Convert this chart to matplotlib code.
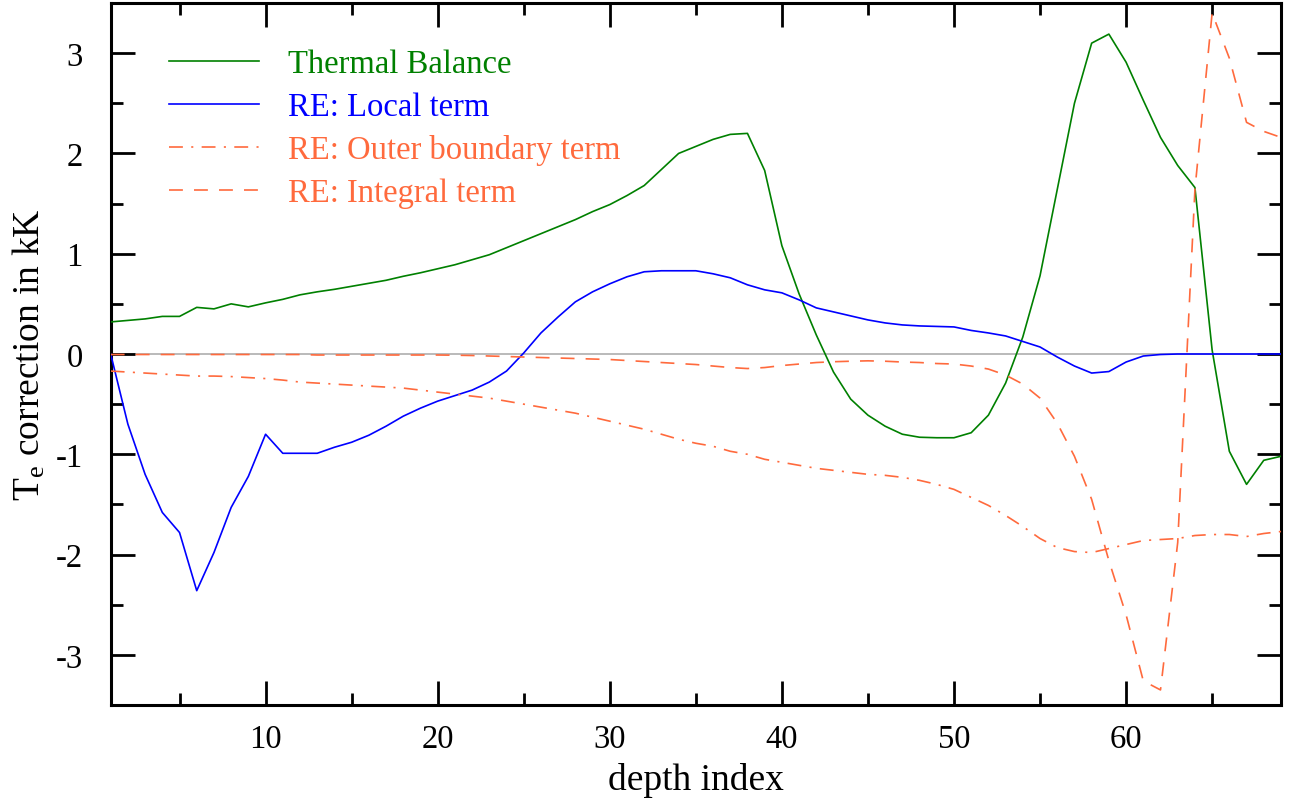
import numpy as np
import matplotlib
matplotlib.use("Agg")
import matplotlib.pyplot as plt
from matplotlib.ticker import MultipleLocator

# -----------------------------------------------------------------------------
# Datos (indice de profundidad 1..69, correcciones en kK)
# -----------------------------------------------------------------------------
depth = np.arange(1, 70)

thermal_balance = [
    0.32, 0.335, 0.35, 0.375, 0.375, 0.465, 0.45, 0.50, 0.47, 0.51,
    0.545, 0.59, 0.62, 0.645, 0.675, 0.705, 0.735, 0.775, 0.81, 0.85,
    0.89, 0.94, 0.99, 1.06, 1.13, 1.20, 1.27, 1.34, 1.42, 1.49,
    1.58, 1.68, 1.84, 2.00, 2.07, 2.14, 2.19, 2.20, 1.83, 1.08,
    0.60, 0.19, -0.18, -0.45, -0.61, -0.72, -0.80, -0.83, -0.835, -0.835,
    -0.785, -0.61, -0.29, 0.17, 0.78, 1.64, 2.50, 3.10, 3.19, 2.91,
    2.53, 2.16, 1.88, 1.66, 0.04, -0.97, -1.30, -1.06, -1.02,
]

local_term = [
    0.0, -0.70, -1.20, -1.58, -1.78, -2.36, -1.98, -1.53, -1.22, -0.80,
    -0.99, -0.99, -0.99, -0.93, -0.88, -0.81, -0.72, -0.62, -0.54, -0.47,
    -0.415, -0.36, -0.28, -0.17, 0.01, 0.21, 0.37, 0.52, 0.62, 0.70,
    0.77, 0.82, 0.83, 0.83, 0.83, 0.80, 0.76, 0.69, 0.64, 0.61,
    0.54, 0.46, 0.42, 0.38, 0.34, 0.31, 0.29, 0.28, 0.275, 0.27,
    0.235, 0.21, 0.18, 0.125, 0.07, -0.03, -0.12, -0.19, -0.175, -0.08,
    -0.02, -0.005, 0.0, 0.0, 0.0, 0.0, 0.0, 0.0, 0.0,
]

outer_boundary = [
    -0.17, -0.18, -0.19, -0.20, -0.21, -0.22, -0.22, -0.225, -0.235, -0.245,
    -0.26, -0.28, -0.29, -0.30, -0.31, -0.32, -0.33, -0.34, -0.36, -0.38,
    -0.40, -0.42, -0.44, -0.47, -0.50, -0.53, -0.56, -0.59, -0.63, -0.67,
    -0.71, -0.75, -0.80, -0.85, -0.89, -0.92, -0.97, -1.00, -1.05, -1.08,
    -1.11, -1.14, -1.16, -1.18, -1.20, -1.21, -1.23, -1.26, -1.30, -1.35,
    -1.43, -1.51, -1.61, -1.72, -1.84, -1.93, -1.97, -1.98, -1.94, -1.90,
    -1.86, -1.85, -1.84, -1.81, -1.80, -1.80, -1.82, -1.79, -1.77,
]

integral_term = [
    -0.005, -0.005, -0.005, -0.005, -0.005, -0.005, -0.005, -0.005, -0.005, -0.005,
    -0.005, -0.005, -0.01, -0.01, -0.01, -0.01, -0.01, -0.01, -0.01, -0.01,
    -0.012, -0.015, -0.02, -0.025, -0.03, -0.035, -0.04, -0.045, -0.05, -0.055,
    -0.065, -0.075, -0.085, -0.095, -0.105, -0.12, -0.135, -0.145, -0.135, -0.115,
    -0.10, -0.085, -0.077, -0.072, -0.068, -0.072, -0.08, -0.085, -0.095, -0.10,
    -0.12, -0.15, -0.21, -0.30, -0.44, -0.69, -1.02, -1.45, -2.06, -2.60,
    -3.26, -3.35, -1.88, 1.64, 3.40, 2.95, 2.31, 2.22, 2.16,
]

labels = ["Thermal Balance", "RE: Local term",
          "RE: Outer boundary term", "RE: Integral term"]

GREEN = "#008000"
BLUE = "#0000ff"
ORANGE = "#ff6a3d"

# -----------------------------------------------------------------------------
# Estilo
# -----------------------------------------------------------------------------
plt.rcParams["font.family"] = ["Liberation Serif", "DejaVu Serif"]
plt.rcParams["mathtext.fontset"] = "custom"
plt.rcParams["mathtext.rm"] = "Liberation Serif"
plt.rcParams["mathtext.it"] = "Liberation Serif:italic"
plt.rcParams["axes.unicode_minus"] = False
plt.rcParams["lines.scale_dashes"] = False

fig = plt.figure(figsize=(12.9, 8.04), dpi=100)
ax = fig.add_axes([0.0858, 0.1219, 0.9072, 0.8731])

ax.axhline(0, color="#b4b4b4", lw=1.3, zorder=1)

lw = 1.2
ax.plot(depth, thermal_balance, color=GREEN, lw=lw, label=labels[0], zorder=3)
ax.plot(depth, local_term, color=BLUE, lw=lw, label=labels[1], zorder=3)
ax.plot(depth, outer_boundary, color=ORANGE, lw=lw, label=labels[2],
        dashes=(10, 6, 1.5, 6), zorder=3)
ax.plot(depth, integral_term, color=ORANGE, lw=lw, label=labels[3],
        dashes=(10, 8), zorder=3)

ax.set_xlim(1, 69)
ax.set_ylim(-3.5, 3.5)
ax.xaxis.set_major_locator(MultipleLocator(10))
ax.xaxis.set_minor_locator(MultipleLocator(5))
ax.yaxis.set_major_locator(MultipleLocator(1))
ax.yaxis.set_minor_locator(MultipleLocator(0.5))

for s in ax.spines.values():
    s.set_linewidth(2.2)
ax.tick_params(which="both", direction="in", top=True, right=True, width=2.0)
ax.tick_params(which="major", length=17, labelsize=23.5)
ax.tick_params(axis="y", which="major", pad=20)
ax.tick_params(axis="x", which="major", pad=13)
ax.tick_params(which="minor", length=8.5)

ax.set_xlabel("depth index", fontsize=27, labelpad=6)
ax.set_ylabel("T$_{\\mathrm{e}}$ correction in kK", fontsize=27, labelpad=6)

leg = ax.legend(loc="upper left", bbox_to_anchor=(0.05, 0.935), frameon=False,
                fontsize=23.5, handlelength=2.75, handletextpad=0.9,
                labelspacing=0.38, borderpad=0, borderaxespad=0)
for txt, c in zip(leg.get_texts(), [GREEN, BLUE, ORANGE, ORANGE]):
    txt.set_color(c)

fig.savefig("out.png", dpi=100)
